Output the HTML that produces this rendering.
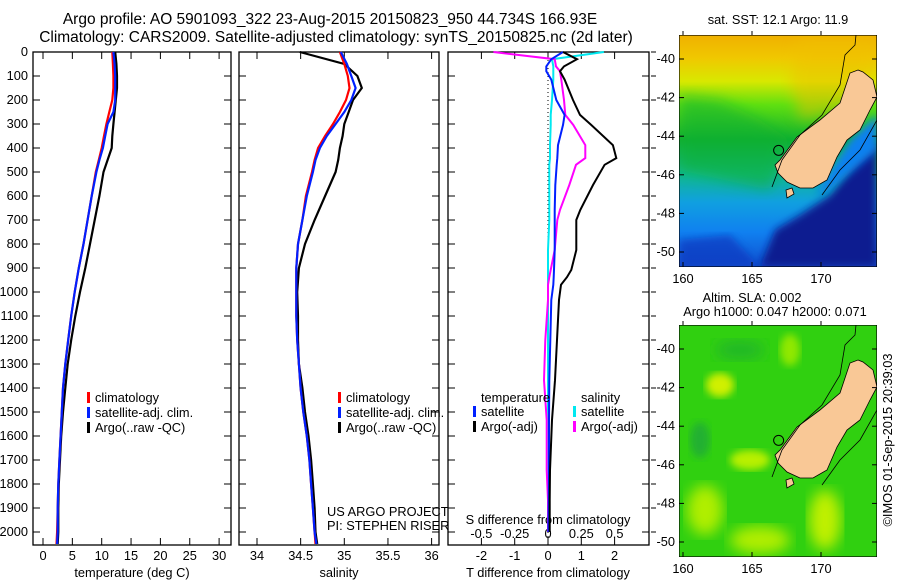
<!DOCTYPE html>
<html><head><meta charset="utf-8"><style>
body{margin:0;background:#fff}
svg{display:block;font-family:"Liberation Sans",sans-serif;font-size:12.8px}
</style></head><body>
<svg id="fig" width="900" height="580" viewBox="0 0 900 580">
<defs>
<linearGradient id="sstg" x1="0" y1="0" x2="0" y2="1">
<stop offset="0" stop-color="#f0b000"/><stop offset="0.1" stop-color="#f0c800"/><stop offset="0.2" stop-color="#d8e800"/>
<stop offset="0.3" stop-color="#60e010"/><stop offset="0.45" stop-color="#10b030"/><stop offset="0.6" stop-color="#10b890"/>
<stop offset="0.72" stop-color="#10a0e0"/><stop offset="0.85" stop-color="#1080f0"/><stop offset="1" stop-color="#1050d0"/></linearGradient>
<filter id="blur4"><feGaussianBlur stdDeviation="4"/></filter>
<filter id="blur7"><feGaussianBlur stdDeviation="7"/></filter>
<clipPath id="c1"><rect x="679" y="35" width="198" height="232"/></clipPath>
<clipPath id="c2"><rect x="679" y="325" width="198" height="232"/></clipPath>
</defs>
<text x="330" y="24" text-anchor="middle" font-size="15.5">Argo profile: AO 5901093_322 23-Aug-2015 20150823_950 44.734S 166.93E</text>
<text x="336" y="42" text-anchor="middle" font-size="15.5">Climatology: CARS2009. Satellite-adjusted climatology: synTS_20150825.nc (2d later)</text>
<g id="p1"></g>
<g id="p2"></g>
<g id="p3"></g>
<g id="maps">
<text x="778" y="24" text-anchor="middle">sat. SST: 12.1 Argo: 11.9</text>
<g clip-path="url(#c1)">
<rect x="679" y="35" width="198" height="232" fill="url(#sstg)"/>
<polygon points="679,95 720,100 760,120 790,140 770,190 679,170" fill="#10b030" opacity="0.55" filter="url(#blur7)"/>
<polygon points="800,35 877,35 877,70 840,110 800,120 790,80" fill="#f0c000" opacity="0.5" filter="url(#blur7)"/>
<polygon points="855,160 877,140 877,267 760,267 775,230 800,215 830,195" fill="#0a1a90" filter="url(#blur4)"/>
<polygon points="679,240 730,235 760,267 679,267" fill="#1038c0" opacity="0.7" filter="url(#blur4)"/>
<polygon points="850,140 877,115 877,150 830,190 815,195" fill="#1080f0" filter="url(#blur4)"/>
</g>
<g clip-path="url(#c2)">
<rect x="679" y="325" width="198" height="232" fill="#30d010"/>
<ellipse cx="720" cy="385" rx="14" ry="12" fill="#d0f000" filter="url(#blur4)"/>
<ellipse cx="750" cy="460" rx="20" ry="10" fill="#b8f000" filter="url(#blur4)"/>
<ellipse cx="705" cy="510" rx="18" ry="25" fill="#b0ee00" filter="url(#blur7)"/>
<ellipse cx="825" cy="520" rx="16" ry="30" fill="#c0f000" filter="url(#blur7)"/>
<ellipse cx="760" cy="540" rx="30" ry="14" fill="#b0ee00" filter="url(#blur7)"/>
<ellipse cx="790" cy="350" rx="10" ry="16" fill="#90e800" filter="url(#blur4)"/>
<ellipse cx="700" cy="440" rx="10" ry="18" fill="#20b030" filter="url(#blur4)"/>
<ellipse cx="740" cy="350" rx="25" ry="10" fill="#20b828" filter="url(#blur7)"/>
</g>
<text x="752" y="302" text-anchor="middle">Altim. SLA: 0.002</text>
<text x="775" y="316" text-anchor="middle">Argo h1000: 0.047 h2000: 0.071</text>
<text transform="translate(892,440) rotate(-90)" text-anchor="middle">©IMOS 01-Sep-2015 20:39:03</text>
</g>
</svg>
<script>
// ---- data ----
const depths = [0,50,100,150,200,250,300,350,400,450,500,600,700,800,900,1000,1100,1200,1300,1400,1500,1600,1700,1800,1900,2000,2050];
const tempArgo = [12.3,12.5,12.6,12.6,12.4,12.2,12.0,11.8,11.7,11.0,10.3,9.6,8.8,8.0,7.2,6.3,5.5,4.8,4.2,3.8,3.4,3.1,2.9,2.7,2.6,2.6,2.5];
const tempClim = [11.8,11.9,12.0,12.0,11.8,11.3,10.8,10.4,10.0,9.5,9.0,8.3,7.6,6.9,6.1,5.4,4.8,4.3,3.8,3.4,3.2,3.0,2.8,2.6,2.5,2.4,2.3];
const tempSat  = [12.0,12.2,12.3,12.3,12.3,12.0,11.0,10.6,10.2,9.6,9.1,8.3,7.6,6.9,6.1,5.4,4.8,4.3,3.8,3.4,3.2,3.0,2.8,2.6,2.5,2.5,2.4];
const salArgo = [34.49,35.0,35.15,35.2,35.1,35.05,35.0,34.98,34.95,34.93,34.9,34.78,34.66,34.55,34.48,34.46,34.47,34.47,34.48,34.52,34.55,34.59,34.62,34.64,34.66,34.67,34.69];
const salClim = [34.95,35.0,35.04,35.06,35.02,34.95,34.87,34.78,34.70,34.66,34.63,34.56,34.52,34.47,34.45,34.45,34.45,34.46,34.48,34.50,34.53,34.57,34.60,34.62,34.64,34.66,34.67];
const salSat  = [34.96,35.03,35.08,35.13,35.08,35.0,34.9,34.8,34.72,34.67,34.64,34.57,34.52,34.47,34.45,34.45,34.45,34.46,34.48,34.50,34.53,34.57,34.60,34.62,34.64,34.66,34.68];
const diffDepths = [0,30,60,80,115,200,262,304,388,442,470,554,658,700,825,908,938,970,1033,1200,1367,1533,1742,1867,2000];
const tDiffArgo = [0.45,0.87,0.48,0.36,0.5,0.75,0.96,1.3,1.95,2.05,1.7,1.35,0.97,0.85,0.85,0.7,0.57,0.39,0.33,0.27,0.21,0.12,0.06,0.05,0.05];
const tDiffSat  = [0.45,0.1,-0.05,-0.05,0.1,0.25,0.5,0.45,0.3,0.28,0.26,0.22,0.2,0.2,0.2,0.18,0.17,0.16,0.1,0.07,0.04,0.03,0.03,0.02,0.01];
const sDiffArgo = [-0.41,0.05,0.06,0.09,0.1,0.12,0.13,0.19,0.28,0.28,0.21,0.16,0.09,0.07,0.05,0.02,0.01,0.0,0.0,-0.02,-0.03,-0.01,-0.01,0.0,0.0];
const sDiffSat  = [0.42,0.03,0.04,0.04,0.04,0.03,0.02,0.02,0.015,0.015,0.01,0.01,0.01,0.01,0.0,0.0,0.0,0.0,0.0,0.0,0.0,0.0,0.0,0.0,0.0];
const depthTicks = [0,100,200,300,400,500,600,700,800,900,1000,1100,1200,1300,1400,1500,1600,1700,1800,1900,2000];
const tempTicks = [0,5,10,15,20,25,30];
const salTicks = [34,34.5,35,35.5,36];
const salTickLabels = ["34","34.5","35","35.5","36"];
const tDiffTicks = [-2,-1,0,1,2];
const sDiffTicks = [-0.5,-0.25,0,0.25,0.5];
const sDiffTickLabels = ["-0.5","-0.25","0","0.25","0.5"];
const latTicks = [-40,-42,-44,-46,-48,-50];
const lonTicks = [160,165,170];
// ---- scales ----
const Y = d => 52 + d*0.24;
const XT = t => 43 + t*5.87;
const XS = s => 257 + (s-34)*87.3;
const XTD = t => 548 + t*33.3;
const XSD = s => 548 + s*133.2;
const NS='http://www.w3.org/2000/svg';
function mk(parent,tag,attrs){const e=document.createElementNS(NS,tag);for(const k in attrs)e.setAttribute(k,attrs[k]);parent.appendChild(e);return e;}
function frame(g,x0,x1){
  const r=mk(g,'rect',{x:x0,y:52,width:x1-x0,height:493,fill:'none',stroke:'#000','stroke-width':1.3});
  
  
  depthTicks.forEach(d=>{mk(g,'line',{x1:x0,x2:x0+7,y1:Y(d),y2:Y(d),stroke:'#000'});mk(g,'line',{x1:x1,x2:x1-7,y1:Y(d),y2:Y(d),stroke:'#000'});});
}
function line(g,xs,ys,fx,color,w,name){
  const p=mk(g,'polyline',{points:xs.map((v,i)=>fx(v).toFixed(1)+','+Y(ys[i]).toFixed(1)).join(' '),fill:'none',stroke:color,'stroke-width':w});
  
  
}
function text(g,x,y,s,anchor,name){const t=mk(g,'text',{x:x,y:y,'text-anchor':anchor||'start'});t.textContent=s;
  
  
  return t;}
function xticks(g,vals,labels,fx,ybot,ytext,name){vals.forEach((v,i)=>{mk(g,'line',{x1:fx(v),x2:fx(v),y1:ybot,y2:ybot-7,stroke:'#000'});mk(g,'line',{x1:fx(v),x2:fx(v),y1:52,y2:59,stroke:'#000'});text(g,fx(v),ytext,labels[i],'middle',name);});}
function legend(g,x,y,color,label){mk(g,'rect',{x:x,y:y-10,width:3,height:11,fill:color});text(g,x+8,y,label,'start','legend-entry');}
// panel 1
const p1=document.getElementById('p1');
frame(p1,33,231);
depthTicks.forEach(d=>text(p1,28,Y(d)+4,String(d),'end','depth-tick-label'));
xticks(p1,tempTicks,tempTicks.map(String),XT,545,560,'temperature-tick-label');
text(p1,132,577,'temperature (deg C)','middle','x-axis-title');
line(p1,tempArgo,depths,XT,'#000',2.2,'argo-temperature');
line(p1,tempClim,depths,XT,'#ff0000',2.2,'climatology-temperature');
line(p1,tempSat,depths,XT,'#0020ff',2.2,'satellite-temperature');
legend(p1,87,402,'#ff0000','climatology');legend(p1,87,417,'#0020ff','satellite-adj. clim.');legend(p1,87,432,'#000','Argo(..raw -QC)');
// panel 2
const p2=document.getElementById('p2');
frame(p2,239,439);
xticks(p2,salTicks,salTickLabels,XS,545,560,'salinity-tick-label');
text(p2,339,577,'salinity','middle','x-axis-title');
line(p2,salArgo,depths,XS,'#000',2.2,'argo-salinity');
line(p2,salClim,depths,XS,'#ff0000',2.2,'climatology-salinity');
line(p2,salSat,depths,XS,'#0020ff',2.2,'satellite-salinity');
legend(p2,338,402,'#ff0000','climatology');legend(p2,338,417,'#0020ff','satellite-adj. clim.');legend(p2,338,432,'#000','Argo(..raw -QC)');
text(p2,327,516,'US ARGO PROJECT','start','project-note');text(p2,327,530,'PI: STEPHEN RISER','start','pi-note');
// panel 3
const p3=document.getElementById('p3');
frame(p3,448,649);
depthTicks.forEach(d=>mk(p3,'line',{x1:651,x2:656,y1:Y(d),y2:Y(d),stroke:'#000'}));
xticks(p3,tDiffTicks,tDiffTicks.map(String),XTD,545,560,'t-diff-tick-label');
sDiffTicks.forEach((v,i)=>text(p3,XSD(v),538,sDiffTickLabels[i],'middle','s-diff-tick-label'));
text(p3,548,524,'S difference from climatology','middle','s-axis-title');
text(p3,548,577,'T difference from climatology','middle','x-axis-title');
mk(p3,'line',{x1:548,x2:548,y1:52,y2:545,stroke:'#000','stroke-dasharray':'1,3'});
line(p3,sDiffSat,diffDepths,XSD,'#00e8f0',2,'satellite-salinity-diff');
line(p3,sDiffArgo,diffDepths,XSD,'#ff00ff',2,'argo-salinity-diff');
line(p3,tDiffSat,diffDepths,XTD,'#0020ff',2,'satellite-temperature-diff');
line(p3,tDiffArgo,diffDepths,XTD,'#000',2,'argo-temperature-diff');
text(p3,481,402,'temperature','start','legend-title');text(p3,581,402,'salinity','start','legend-title');
legend(p3,473,416,'#0020ff','satellite');legend(p3,473,431,'#000','Argo(-adj)');
legend(p3,573,416,'#00e8f0','satellite');legend(p3,573,431,'#ff00ff','Argo(-adj)');
// maps
const maps=document.getElementById('maps');
const LX = lon => 683 + (lon-160)*13.8;
const LY = lat => 59 + (-40-lat)*19.3;
const island=[[858,70],[863,72],[873,80],[877,97],[870,110],[860,130],[847,140],[837,157],[827,180],[813,188],[800,188],[787,182],[778,173],[775,165],[780,160],[797,137],[820,120],[840,103],[850,73]];
[0,290].forEach((off,k)=>{
  const g=mk(maps,'g',{'clip-path':k?'url(#c2)':'url(#c1)'});
  
  
  mk(g,'polygon',{points:island.map(p=>p[0]+','+(p[1]+off)).join(' '),fill:'#f9c896',stroke:'#000','stroke-width':0.8});
  mk(g,'polygon',{points:`786,${190+off} 792,${188+off} 794,${194+off} 787,${198+off}`,fill:'#f9c896',stroke:'#000','stroke-width':0.8});
  mk(g,'polyline',{points:`856,${35+off} 855,${45+off} 845,${55+off} 840,${85+off} 822,${115+off} 800,${135+off} 782,${160+off} 772,${187+off}`,fill:'none',stroke:'#000','stroke-width':0.8});
  mk(g,'polyline',{points:`877,${120+off} 860,${150+off} 840,${170+off} 822,${195+off}`,fill:'none',stroke:'#000','stroke-width':0.8});
  mk(g,'rect',{x:679,y:35+off,width:198,height:232,fill:'none',stroke:'#000','stroke-width':1.2});
  const c=mk(g,'circle',{cx:LX(166.93),cy:LY(-44.734)+off,r:5,fill:'none',stroke:'#000','stroke-width':1});
  
  
  latTicks.forEach(l=>{mk(maps,'line',{x1:679,x2:684,y1:LY(l)+off,y2:LY(l)+off,stroke:'#000'});mk(maps,'line',{x1:872,x2:877,y1:LY(l)+off,y2:LY(l)+off,stroke:'#000'});text(maps,675,LY(l)+off+4,String(l),'end','latitude-tick-label');});
  lonTicks.forEach(l=>{mk(maps,'line',{x1:LX(l),x2:LX(l),y1:267+off,y2:262+off,stroke:'#000'});mk(maps,'line',{x1:LX(l),x2:LX(l),y1:35+off,y2:31+off,stroke:'#000'});text(maps,LX(l),283+off,String(l),'middle','longitude-tick-label');});
});
</script>
</body></html>
